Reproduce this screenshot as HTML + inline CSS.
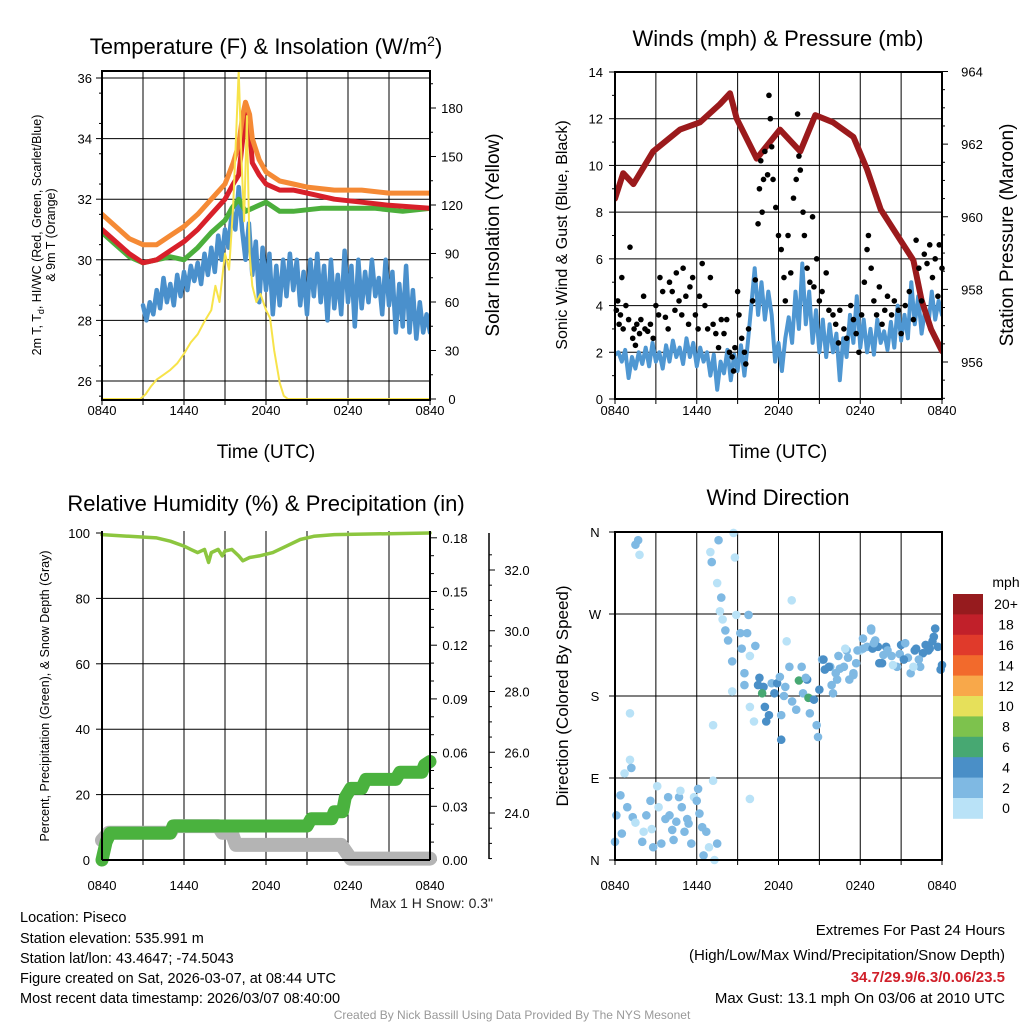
<!DOCTYPE html>
<html><head><meta charset="utf-8">
<style>
html,body{margin:0;padding:0;background:#fff;}
svg{display:block;font-family:"Liberation Sans",Arial,sans-serif;}
</style></head>
<body>
<svg id="fig" width="1024" height="1024" viewBox="0 0 1024 1024" xmlns="http://www.w3.org/2000/svg">
<defs>
<clipPath id="c1"><rect x="102" y="71" width="328" height="329"/></clipPath>
<clipPath id="c2"><rect x="615" y="72" width="327" height="327"/></clipPath>
<clipPath id="c3"><rect x="95" y="520" width="345" height="348"/></clipPath>
<clipPath id="c4"><rect x="608" y="526" width="340" height="341"/></clipPath>
</defs>
<rect width="1024" height="1024" fill="#fff"/>
<text x="266" y="54" font-size="22" text-anchor="middle">Temperature (F) &amp; Insolation (W/m<tspan dy="-8" font-size="14">2</tspan><tspan dy="8">)</tspan></text>
<text x="778" y="46" font-size="22" text-anchor="middle">Winds (mph) &amp; Pressure (mb)</text>
<text x="266" y="511" font-size="22" text-anchor="middle">Relative Humidity (%) &amp; Precipitation (in)</text>
<text x="778" y="505" font-size="22" text-anchor="middle">Wind Direction</text>

<text transform="translate(41,235) rotate(-90)" font-size="12.5" text-anchor="middle">2m T, T<tspan dy="3" font-size="9">d</tspan><tspan dy="-3">, HI/WC (Red, Green, Scarlet/Blue)</tspan></text>
<text transform="translate(55,235) rotate(-90)" font-size="12.5" text-anchor="middle">&amp; 9m T (Orange)</text>
<text transform="translate(499,235) rotate(-90)" font-size="19" text-anchor="middle">Solar Insolation (Yellow)</text>
<text x="266" y="458" font-size="19" text-anchor="middle">Time (UTC)</text>
<text x="778" y="458" font-size="19" text-anchor="middle">Time (UTC)</text>
<text transform="translate(567,235) rotate(-90)" font-size="16" text-anchor="middle">Sonic Wind &amp; Gust (Blue, Black)</text>
<text transform="translate(1013,235) rotate(-90)" font-size="19" text-anchor="middle">Station Pressure (Maroon)</text>
<text transform="translate(49,696) rotate(-90)" font-size="12.5" text-anchor="middle">Percent, Precipitation (Green), &amp; Snow Depth (Gray)</text>
<text transform="translate(568,696) rotate(-90)" font-size="17" text-anchor="middle">Direction (Colored By Speed)</text>
<text x="493" y="908" font-size="14" text-anchor="end" fill="#222">Max 1 H Snow: 0.3"</text>

<g font-size="14.5">
<text x="20" y="922">Location: Piseco</text>
<text x="20" y="943">Station elevation: 535.991 m</text>
<text x="20" y="963">Station lat/lon: 43.4647; -74.5043</text>
<text x="20" y="983">Figure created on Sat, 2026-03-07, at 08:44 UTC</text>
<text x="20" y="1003">Most recent data timestamp: 2026/03/07 08:40:00</text>
</g>
<g font-size="15" text-anchor="end">
<text x="1005" y="935">Extremes For Past 24 Hours</text>
<text x="1005" y="960">(High/Low/Max Wind/Precipitation/Snow Depth)</text>
<text x="1005" y="982" fill="#d0202a" font-weight="bold">34.7/29.9/6.3/0.06/23.5</text>
<text x="1005" y="1003">Max Gust: 13.1 mph On 03/06 at 2010 UTC</text>
</g>
<text x="512" y="1019" font-size="12" fill="#999" text-anchor="middle">Created By Nick Bassill Using Data Provided By The NYS Mesonet</text>
</svg>
<script>
// ---------- data ----------
const xTickLabels = ["0840","1440","2040","0240","0840"];
const tempTickLabels = [26,28,30,32,34,36];
const solarTickLabels = [0,30,60,90,120,150,180];
const orangeT = [0,1,2,3,4,5,6,7,8,9,9.6,10,10.3,10.5,10.8,11,11.5,12,13,14,15,17,19,21,24];
const orangeV = [31.5,31.1,30.7,30.5,30.5,30.8,31.1,31.5,32.0,32.5,33.2,33.8,34.8,35.2,34.8,34.0,33.3,32.9,32.6,32.5,32.4,32.3,32.3,32.2,32.2];
const redT = [0,1,2,3,4,5,6,7,8,9,9.6,10,10.3,10.5,10.8,11,11.5,12,13,14,15,17,19,21,24];
const redV = [31.0,30.6,30.2,29.9,30.0,30.3,30.6,31.0,31.5,32.0,32.5,32.8,34.0,34.8,34.4,33.2,32.8,32.5,32.3,32.3,32.2,32.0,31.9,31.8,31.7];
const greenT = [0,1,1.5,2,3,4,5,6,7,8,9,9.5,10,10.5,11,12,13,14,16,18,20,22,24];
const greenV = [30.9,30.5,30.3,30.1,29.9,30.0,30.1,30.0,30.4,30.9,31.3,31.7,32.0,31.6,31.7,31.9,31.6,31.6,31.7,31.7,31.7,31.6,31.7];
const blueStart = 3.0, blueStep = 0.25;
const blueWC = [28.5,28.0,28.6,28.2,29.0,28.4,29.4,28.6,29.2,28.5,29.5,28.8,29.6,29.0,29.8,29.3,29.9,29.2,30.2,29.5,30.4,29.6,30.8,30.0,31.0,30.4,31.6,31.0,32.4,31.0,30.0,31.2,29.5,30.6,28.6,30.4,29.0,30.2,28.2,29.8,28.5,30.0,28.8,30.2,29.0,30.0,28.5,29.6,28.2,30.0,28.8,30.2,28.6,29.8,28.0,30.0,28.4,29.5,28.2,30.3,28.6,29.8,27.8,30.0,28.4,29.6,28.6,30.0,28.8,29.4,28.2,30.0,28.5,29.6,27.6,29.2,27.8,29.8,27.6,29.0,27.4,28.6,27.6,28.2,27.6];
const solarT = [0,2.8,3.2,3.6,4,4.5,5,5.5,6,6.5,7,7.5,8,8.3,8.6,9,9.3,9.6,9.8,10,10.2,10.4,10.6,10.8,11,11.3,11.6,12,12.3,12.6,13,13.3,13.6,24];
const solarV = [0,0,3,8,12,15,18,22,28,35,40,48,55,70,60,90,80,120,160,203,150,110,175,90,70,60,65,55,50,30,10,2,0,0];

const windTickLabels = [0,2,4,6,8,10,12,14];
const presTickLabels = [956,958,960,962,964];
const windStart = 0, windStep = 0.25;
const windV = [1.9,2.0,1.6,2.1,0.9,1.8,1.3,2.0,1.5,2.2,1.4,2.4,1.6,2.0,1.3,2.3,1.6,2.5,1.8,2.2,1.5,2.6,1.8,2.4,1.4,2.2,1.6,2.0,1.0,1.9,0.4,1.6,1.1,2.1,0.8,1.9,1.2,2.3,1.0,2.4,4.0,5.6,3.6,5.0,3.4,4.6,3.6,1.6,2.4,1.2,2.6,3.5,2.4,4.6,3.0,5.8,3.2,4.6,2.4,3.8,2.0,3.4,1.8,3.2,2.0,2.8,0.8,2.6,1.8,3.6,2.4,4.4,2.2,3.4,2.0,3.0,1.9,3.4,2.4,2.9,2.1,3.3,2.2,4.0,2.5,3.6,2.6,5.0,3.2,4.4,2.8,3.8,3.2,4.6,3.4,4.2,3.6];
const gustT = [0.1,0.2,0.3,0.4,0.5,0.6,0.8,1.0,1.1,1.3,1.4,1.5,1.6,1.8,1.9,2.1,2.2,2.4,2.6,2.8,3.0,3.2,3.3,3.5,3.7,3.9,4.0,4.2,4.4,4.5,4.7,4.9,5.0,5.2,5.4,5.5,5.7,5.9,6.1,6.2,6.4,6.6,6.8,7.0,7.2,7.4,7.6,7.8,8.0,8.2,8.4,8.6,8.7,8.8,9.0,9.1,9.3,9.5,9.6,9.8,10.1,10.3,10.5,10.6,10.7,10.8,10.9,11.0,11.2,11.3,11.4,11.5,11.6,11.8,12.0,12.2,12.4,12.5,12.7,12.9,13.1,13.3,13.4,13.5,13.6,13.8,13.9,14.1,14.3,14.5,14.6,14.8,15.0,15.2,15.5,15.7,16.0,16.2,16.4,16.5,16.8,17.0,17.3,17.5,17.7,17.9,18.1,18.3,18.5,18.6,18.8,19.0,19.2,19.4,19.6,19.8,20.0,20.3,20.5,20.8,21.0,21.3,21.6,21.9,22.1,22.3,22.5,22.7,22.9,23.1,23.3,23.5,23.7,23.8,24.0];
const gustV = [3.8,4.2,3.2,3.6,5.2,3.0,4.0,3.4,6.5,2.6,3.0,2.3,3.2,2.8,3.4,4.4,3.0,2.9,3.2,2.6,4.0,3.6,5.2,4.6,3.5,3.0,5.0,4.6,3.8,5.4,4.2,3.6,5.6,4.4,3.2,4.8,5.2,3.6,3.0,4.4,5.8,4.0,3.0,5.2,3.2,2.8,2.2,3.4,2.8,3.4,2.0,1.8,1.2,2.2,4.6,3.6,2.6,2.0,1.5,3.0,4.2,5.1,7.5,9.0,10.2,8.0,9.4,10.6,9.6,13.0,12.0,10.8,9.4,8.2,7.0,6.4,5.2,4.2,7.0,5.4,8.6,9.4,12.2,10.4,9.8,8.0,7.0,5.6,5.0,7.8,4.8,6.0,4.2,4.6,5.4,3.8,3.6,3.2,2.4,3.8,3.0,2.6,4.0,3.4,2.8,2.0,3.6,5.0,6.4,7.0,5.6,4.2,3.6,4.8,3.2,3.8,4.4,3.6,4.2,3.8,2.8,4.0,4.6,3.4,6.8,5.6,4.2,6.2,5.8,6.6,5.2,6.0,4.4,6.6,5.6];
const presT = [0,0.6,1.35,2.8,4.77,6.24,7.7,8.44,8.93,10.4,12.1,13.6,14.7,16.0,17.5,18.5,19.5,20.7,21.9,22.5,23.2,24];
const presV = [960.5,961.2,960.9,961.8,962.4,962.6,963.1,963.4,962.7,961.6,962.4,961.8,962.8,962.6,962.2,961.3,960.2,959.5,958.8,957.7,956.9,956.3];

const rhTickLabels = [0,20,40,60,80,100];
const precipTickLabels = ["0.00","0.03","0.06","0.09","0.12","0.15","0.18"];
const snowTickLabels = ["24.0","26.0","28.0","30.0","32.0"];
const rhT = [0,2,4,5,6,6.5,7,7.5,7.8,8,8.5,8.8,9,9.5,10,10.3,10.8,11.5,12.5,13.5,14.5,15.5,17,24];
const rhV = [99.5,99,98.5,97.5,96,95,94,95,91,94,95,93,94.5,95,93,91.5,92.5,93,94,96,98,99,99.5,100];
const precipT = [0,0.3,0.6,5,5.2,15,15.3,16.8,17.0,17.6,17.8,18.2,19,19.3,21.5,21.8,23.4,23.6,24];
const precipV = [0,0.01,0.015,0.015,0.019,0.019,0.023,0.023,0.027,0.027,0.035,0.04,0.04,0.045,0.045,0.049,0.049,0.053,0.055];
const snowT = [0,0.5,5,5.3,8.5,8.8,9.5,9.8,17.5,18.2,24];
const snowV = [23.1,23.35,23.35,23.57,23.57,23.35,23.35,22.95,22.95,22.5,22.5];

const dirTickLabels = ["N","E","S","W","N"];
const speedClassLabels = ["0","2","4","6","8","10","12","14","16","18","20+"];
const dirT = [0.0,0.1,0.4,0.5,0.9,1.1,1.1,1.2,0.7,1.3,1.5,1.7,1.5,1.8,2.1,2.0,2.3,2.6,2.7,2.8,3.1,3.2,3.4,3.7,3.9,4.0,4.2,4.3,4.5,4.7,4.8,4.9,5.1,5.3,5.4,5.6,5.8,6.0,6.1,6.2,6.4,6.5,6.7,6.9,7.2,7.3,7.5,7.2,9.9,
7.6,7.0,7.1,7.5,7.8,7.7,7.9,8.1,8.3,8.6,8.7,8.8,8.9,9.2,9.3,9.5,9.5,8.6,9.8,9.7,9.9,10.3,9.9,10.2,10.6,10.5,10.9,10.8,11.0,11.3,11.1,11.5,11.7,11.9,12.1,12.2,12.2,12.5,12.6,12.8,12.97,13.0,13.3,13.5,13.7,13.8,14.1,14.2,14.3,14.6,14.8,14.9,15.0,15.2,15.4,15.8,16.0,16.3,16.4,16.8,17.0,17.2,17.5,17.7,18.0,18.2,18.5,18.8,19.1,19.3,19.6,19.9,20.3,20.7,21.0,21.3,21.7,22.0,22.4,22.6,23.0,
23.5,23.4,23.7,23.9,24.0,23.1,22.1,21.9,21.5,20.4,19.7,19.4,18.9,18.8,18.2,17.8,17.5,16.9,17.1,16.5,15.9,15.7,15.3,
20.0,20.9,21.2,22.8,22.3,23.3,19.0,16.2,14.0,12.4];
const dirV = [20,49,71,29,58,161,110,101,95,47,41,351,346,335,31,20,49,65,34,14,81,58,18,45,69,49,33,22,42,69,76,58,31,45,40,18,69,65,78,51,36,5,31,14,87,0,18,148,67,
351,338,327,304,288,273,264,252,241,218,359,332,269,249,232,205,192,185,269,249,224,235,168,152,200,192,190,183,168,159,152,194,183,194,201,159,132,190,240,212,285,174,165,197,212,183,198,178,161,176,148,135,187,220,209,212,183,198,224,212,230,198,205,216,230,243,234,252,241,234,216,234,224,212,236,238,205,230,212,227,230,
254,245,234,209,214,232,232,212,222,214,225,216,232,254,232,230,203,232,222,210,192,212,220,
230,226,220,236,220,240,238,205,200,180];
const dirSpd = [3,3,3,3,3,1,1,3,1,3,1,3,3,1,1,3,3,3,1,3,1,1,3,3,3,3,3,3,3,3,1,3,3,3,3,3,1,3,3,3,3,3,3,1,1,1,3,1,1,
3,1,3,1,3,1,1,3,3,3,1,1,1,3,3,3,3,1,3,3,1,3,1,1,5,5,5,7,5,5,5,3,5,5,3,3,5,3,1,3,1,3,3,7,3,3,5,7,3,5,3,3,5,3,5,3,3,3,3,3,3,3,3,3,1,3,3,3,3,5,5,5,3,3,5,3,3,5,3,5,5,
5,5,5,5,5,5,5,1,3,1,3,5,5,3,3,3,3,1,3,3,3,5,5,
3,3,5,5,3,5,3,3,3,3];

// ---------- helpers ----------
const NS = "http://www.w3.org/2000/svg";
const svg = document.getElementById("fig");
function mk(tag, attrs, parent){
  const e = document.createElementNS(NS, tag);
  for (const k in attrs) e.setAttribute(k, attrs[k]);
  (parent || svg).appendChild(e);
  return e;
}
function txt(x,y,s,size,anchor,parent){
  const e = mk("text",{x:x,y:y,"font-size":size,"text-anchor":anchor||"middle"},parent);
  e.textContent = s;
  return e;
}
function linScale(d0,d1,r0,r1){ return v => r0 + (v-d0)/(d1-d0)*(r1-r0); }
function pathFrom(ts, vs, sx, sy){
  let d="";
  for (let i=0;i<ts.length;i++){ d += (i?"L":"M")+sx(ts[i]).toFixed(1)+","+sy(vs[i]).toFixed(1); }
  return d;
}
function grid(g,L,R,T,B,xs,ys){
  xs.forEach(x=>{mk("line",{x1:x,x2:x,y1:T,y2:B,stroke:"#000","stroke-width":1},g);});
  ys.forEach(y=>{mk("line",{x1:L,x2:R,y1:y,y2:y,stroke:"#000","stroke-width":1},g);});
}
function xAxis(g,sx,L,B,labelY){
  for (let h=0; h<=24; h+=3){ mk("line",{x1:sx(h),x2:sx(h),y1:B,y2:B+5,stroke:"#000"},g); }
  xTickLabels.forEach((s,i)=>{ txt(sx(i*6),labelY,s,13,"middle",g); });
}

// ================= PANEL 1 =================
{
  const L=102,R=430,T=71,B=400;
  const sx = linScale(0,24,L,R);
  const sy = linScale(26,36,381,78);
  const sy2 = linScale(0,180,399,108);
  const g = mk("g",{});
  
  
  const gx=[]; for(let h=3;h<24;h+=3) gx.push(sx(h));
  grid(g,L,R,T,B,gx,tempTickLabels.map(sy));
  xAxis(g,sx,L,B,415);
  tempTickLabels.forEach(v=>{ mk("line",{x1:L-6,x2:L,y1:sy(v),y2:sy(v),stroke:"#000"},g); txt(L-10,sy(v)+5,String(v),13,"end",g); });
  for(let v=25.5; v<36.3; v+=1){ if(sy(v)>T && sy(v)<B) mk("line",{x1:L-3,x2:L,y1:sy(v),y2:sy(v),stroke:"#000"},g); }
  solarTickLabels.forEach(v=>{ mk("line",{x1:R,x2:R+6,y1:sy2(v),y2:sy2(v),stroke:"#000"},g); txt(R+22,sy2(v)+5,String(v),13,"middle",g); });
  for(let v=15; v<200; v+=30){ mk("line",{x1:R,x2:R+3,y1:sy2(v),y2:sy2(v),stroke:"#000"},g); }
  const cg = mk("g",{"clip-path":"url(#c1)",fill:"none","stroke-linejoin":"round","stroke-linecap":"round"},g);
  const blueT = blueWC.map((v,i)=>blueStart+i*blueStep);
  const pb = mk("path",{d:pathFrom(blueT,blueWC,sx,sy),stroke:"#4a90cc","stroke-width":4.5},cg);
  
  
  const pg = mk("path",{d:pathFrom(greenT,greenV,sx,sy),stroke:"#4caf3c","stroke-width":5},cg);
  
  
  const pr = mk("path",{d:pathFrom(redT,redV,sx,sy),stroke:"#d8202a","stroke-width":5},cg);
  
  
  const po = mk("path",{d:pathFrom(orangeT,orangeV,sx,sy),stroke:"#f58a35","stroke-width":5},cg);
  
  
  const py = mk("path",{d:pathFrom(solarT,solarV,sx,sy2),stroke:"#f7e34a","stroke-width":2},cg);
  
  
  mk("rect",{x:L,y:T,width:R-L,height:B-T,fill:"none",stroke:"#000","stroke-width":2},g);
}

// ================= PANEL 2 =================
{
  const L=615,R=942,T=72,B=399;
  const sx = linScale(0,24,L,R);
  const sy = linScale(0,14,B,T);
  const sy2 = linScale(956,964,362,71.5);
  const g = mk("g",{});
  
  
  const gx=[]; for(let h=3;h<24;h+=3) gx.push(sx(h));
  grid(g,L,R,T,B,gx,windTickLabels.map(sy));
  xAxis(g,sx,L,B,415);
  windTickLabels.forEach(v=>{ mk("line",{x1:L-6,x2:L,y1:sy(v),y2:sy(v),stroke:"#000"},g); txt(L-12,sy(v)+5,String(v),13,"end",g); });
  for(let v=1; v<14; v+=2){ mk("line",{x1:L-3,x2:L,y1:sy(v),y2:sy(v),stroke:"#000"},g); }
  presTickLabels.forEach(v=>{ mk("line",{x1:R,x2:R+6,y1:sy2(v),y2:sy2(v),stroke:"#000"},g); txt(R+30,sy2(v)+5,String(v),13,"middle",g); });
  for(let v=955; v<964; v+=0.5){ if(v%2!==0) mk("line",{x1:R,x2:R+3,y1:sy2(v),y2:sy2(v),stroke:"#000"},g); }
  const cg = mk("g",{"clip-path":"url(#c2)",fill:"none","stroke-linejoin":"round","stroke-linecap":"round"},g);
  const wT = windV.map((v,i)=>windStart+i*windStep);
  const pw = mk("path",{d:pathFrom(wT,windV,sx,sy),stroke:"#4f97d2","stroke-width":4},cg);
  
  
  const pp = mk("path",{d:pathFrom(presT,presV,sx,sy2),stroke:"#9b1a1c","stroke-width":6},cg);
  
  
  gustT.forEach((t,i)=>{
    const c = mk("circle",{cx:sx(t),cy:sy(gustV[i]),r:2.8,fill:"#000"},g);
    
    
  });
  mk("rect",{x:L,y:T,width:R-L,height:B-T,fill:"none",stroke:"#000","stroke-width":2},g);
}

// ================= PANEL 3 =================
{
  const L=102,R=430,T=531,B=860;
  const sx = linScale(0,24,L,R);
  const sy = linScale(0,100,B,533);
  const syP = linScale(0,0.03,B,806.3);
  const syS = linScale(24,32,813,570);
  const g = mk("g",{});
  
  
  const gx=[]; for(let h=3;h<24;h+=3) gx.push(sx(h));
  grid(g,L,R,T,B,gx,[20,40,60,80].map(sy));
  xAxis(g,sx,L,B,890);
  rhTickLabels.forEach(v=>{ mk("line",{x1:L-6,x2:L,y1:sy(v),y2:sy(v),stroke:"#000"},g); txt(L-12,sy(v)+5,String(v),13,"end",g); });
  precipTickLabels.forEach(s=>{ const v=parseFloat(s); mk("line",{x1:R,x2:R+7,y1:syP(v),y2:syP(v),stroke:"#000"},g); txt(R+25,syP(v)+5,s,13,"middle",g); });
  for(let v=0.01; v<0.18; v+=0.03){ mk("line",{x1:R,x2:R+4,y1:syP(v),y2:syP(v),stroke:"#000"},g); mk("line",{x1:R,x2:R+4,y1:syP(v+0.01),y2:syP(v+0.01),stroke:"#000"},g); }
  mk("line",{x1:489,x2:489,y1:533,y2:859,stroke:"#000","stroke-width":1.5},g);
  snowTickLabels.forEach(s=>{ const v=parseFloat(s); mk("line",{x1:489,x2:495,y1:syS(v),y2:syS(v),stroke:"#000"},g); txt(517,syS(v)+5,s,13,"middle",g); });
  for(let v=22.5; v<33; v+=0.5){ if(v%2!==0 && syS(v)>533 && syS(v)<859) mk("line",{x1:489,x2:492,y1:syS(v),y2:syS(v),stroke:"#000"},g); }
  const cg = mk("g",{"clip-path":"url(#c3)",fill:"none","stroke-linejoin":"round","stroke-linecap":"round"},g);
  const ps = mk("path",{d:pathFrom(snowT,snowV,sx,syS),stroke:"#b4b4b4","stroke-width":14},cg);
  
  
  const pp = mk("path",{d:pathFrom(precipT,precipV,sx,syP),stroke:"#4ab23e","stroke-width":13},cg);
  
  
  const ph = mk("path",{d:pathFrom(rhT,rhV,sx,sy),stroke:"#8cc63f","stroke-width":3.5},cg);
  
  
  mk("line",{x1:L,x2:L,y1:T,y2:B,stroke:"#000","stroke-width":2},g);
  mk("line",{x1:R,x2:R,y1:T,y2:B,stroke:"#000","stroke-width":2},g);
  mk("line",{x1:L,x2:R,y1:B,y2:B,stroke:"#000","stroke-width":2},g);
}

// ================= PANEL 4 =================
{
  const L=615,R=942,T=532,B=860;
  const sx = linScale(0,24,L,R);
  const sy = linScale(0,360,B,T);
  const colors = ["#b9e2f7","#7fb9e3","#4a8fc7","#47a872","#7dc24d","#e6e05a","#f8a84a","#f26a2c","#e03a2b","#c1202a","#961b1e"];
  const g = mk("g",{});
  
  
  const gx=[]; for(let h=3;h<24;h+=3) gx.push(sx(h));
  grid(g,L,R,T,B,gx,[90,180,270].map(sy));
  xAxis(g,sx,L,B,890);
  dirTickLabels.forEach((s,i)=>{ mk("line",{x1:L-6,x2:L,y1:sy(i*90),y2:sy(i*90),stroke:"#000"},g); txt(L-20,sy(i*90)+5,s,13,"middle",g); });
  const cg = mk("g",{"clip-path":"url(#c4)"},g);
  dirT.forEach((t,i)=>{
    const cls = Math.min(10, Math.floor(dirSpd[i]/2));
    const c = mk("circle",{cx:sx(t),cy:sy(dirV[i]),r:4.3,fill:colors[cls]},cg);
    
    
  });
  mk("rect",{x:L,y:T,width:R-L,height:B-T,fill:"none",stroke:"#000","stroke-width":2},g);
  const lg = mk("g",{},svg);
  
  
  txt(1006,587,"mph",14,"middle",lg);
  const boxH = 20.4, top = 594;
  speedClassLabels.forEach((s,i)=>{
    const k = 10-i;
    const yy = top + i*boxH;
    mk("rect",{x:953,y:yy,width:30,height:boxH+0.4,fill:colors[k]},lg);
    txt(1006,yy+boxH/2+5,speedClassLabels[k],14,"middle",lg);
  });
}
</script>
</body></html>
